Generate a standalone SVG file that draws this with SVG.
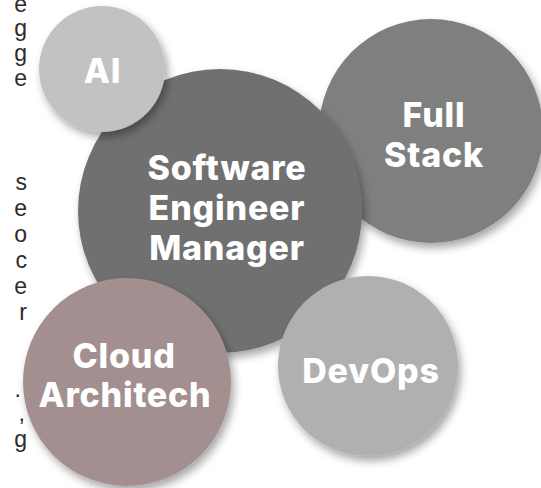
<svg xmlns="http://www.w3.org/2000/svg" width="541" height="488" viewBox="0 0 541 488">
<defs>
<filter id="sh" x="-20%" y="-20%" width="145%" height="145%">
<feDropShadow dx="3" dy="5" stdDeviation="4" flood-color="#000" flood-opacity="0.35"/>
</filter>
<style>
.lbl{font-family:Inter,"Open Sans",sans-serif;font-weight:800;font-size:34px;fill:#ffffff;text-anchor:middle;letter-spacing:0.8px}
.side{font-family:"Liberation Sans",Arial,sans-serif;font-size:23px;fill:#2b2b2b;text-anchor:end}
</style>
</defs>
<rect width="541" height="488" fill="#ffffff"/>
<g id="side-text">
<text class="side" x="27" y="12">e</text>
<text class="side" x="27" y="36">g</text>
<text class="side" x="27" y="61">g</text>
<text class="side" x="27" y="86">e</text>
<text class="side" x="27" y="190">s</text>
<text class="side" x="27" y="216">e</text>
<text class="side" x="27" y="242">o</text>
<text class="side" x="27" y="268">c</text>
<text class="side" x="27" y="294">e</text>
<text class="side" x="27" y="320">r</text>
<text class="side" x="21" y="397">.</text>
<text class="side" x="25" y="421">,</text>
<text class="side" x="27" y="447">g</text>
</g>
<g id="connectors"></g>
<g id="full-stack">
<circle cx="431" cy="131" r="112" fill="#7f7f7f" filter="url(#sh)"/>
<text class="lbl" x="434" y="127">Full</text>
<text class="lbl" x="434" y="167">Stack</text>
</g>
<g id="software-engineer-manager">
<circle cx="220" cy="211" r="142" fill="#6f6f6f" filter="url(#sh)"/>
<text class="lbl" x="227" y="180">Software</text>
<text class="lbl" x="227" y="220">Engineer</text>
<text class="lbl" x="227" y="260">Manager</text>
</g>
<g id="ai">
<circle cx="102" cy="69" r="63" fill="#c2c2c2" filter="url(#sh)"/>
<text class="lbl" x="102.5" y="83">AI</text>
</g>
<g id="devops">
<circle cx="368" cy="366" r="90" fill="#b0b0b0" filter="url(#sh)"/>
<text class="lbl" x="371" y="383">DevOps</text>
</g>
<g id="cloud-architech">
<circle cx="127" cy="382" r="104" fill="#a38f8f" filter="url(#sh)"/>
<text class="lbl" x="124" y="368">Cloud</text>
<text class="lbl" x="125" y="407">Architech</text>
</g>
</svg>
